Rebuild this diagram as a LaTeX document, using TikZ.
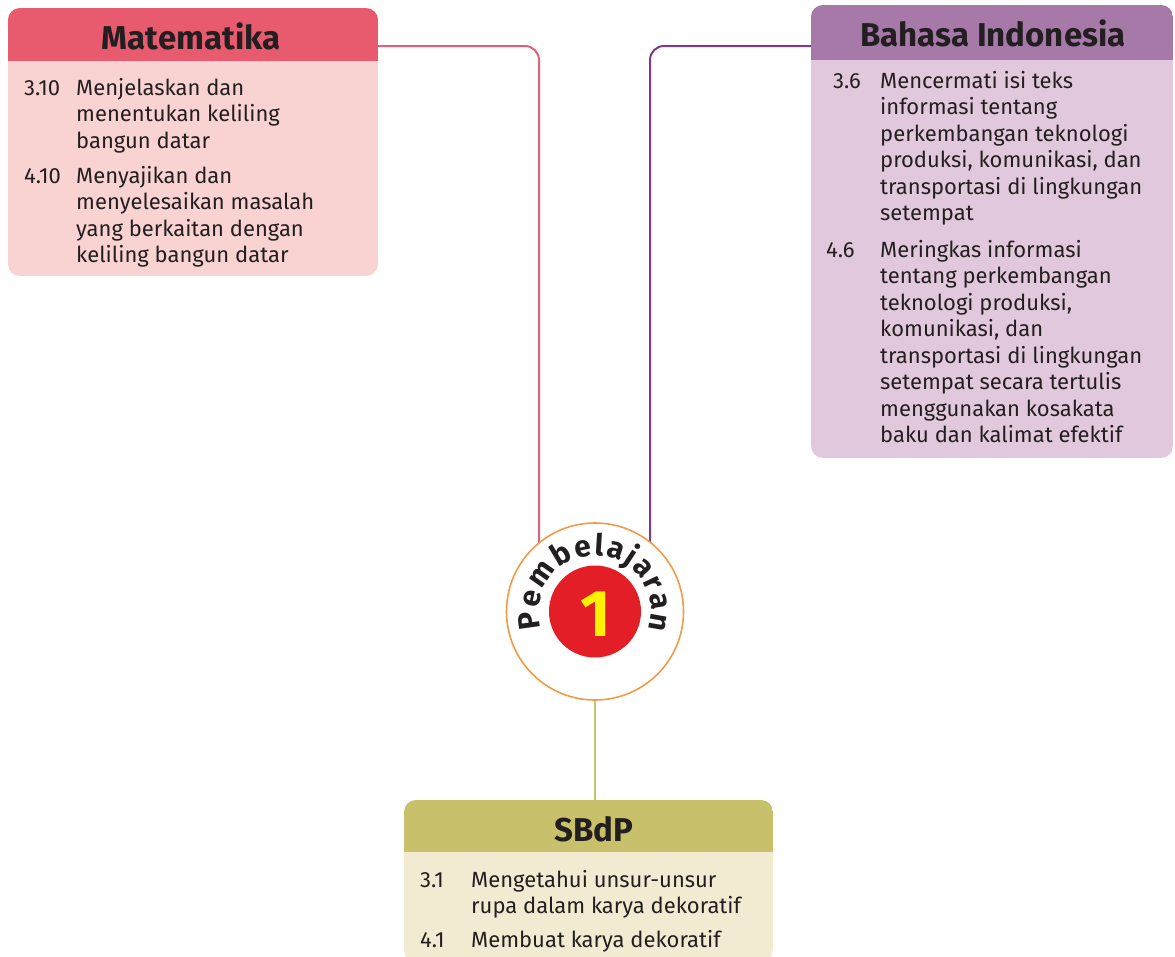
\documentclass[tikz,border=0pt]{standalone}
\usepackage{fontspec}
\setmainfont{Fira Sans}
\usetikzlibrary{decorations.text,calc}
\definecolor{mathead}{HTML}{E85A6E}
\definecolor{matbody}{HTML}{F9D2D2}
\definecolor{matline}{HTML}{E0627A}
\definecolor{bihead}{HTML}{A679A8}
\definecolor{bibody}{HTML}{E2C8DC}
\definecolor{biline}{HTML}{7D3A8C}
\definecolor{sbhead}{HTML}{C8C06A}
\definecolor{sbbody}{HTML}{F1EBD2}
\definecolor{sbline}{HTML}{C9C46E}
\definecolor{ringcol}{HTML}{F29A45}
\definecolor{redcol}{HTML}{E41E26}
\definecolor{yelcol}{HTML}{FFF200}
\definecolor{txt}{HTML}{231F20}
\tikzset{
  itemtext/.style={font=\fontsize{22}{26.5}\selectfont, text=txt, anchor=base west, align=left, inner sep=0pt},
  headtext/.style={font=\bfseries\fontsize{33}{34}\selectfont, text=txt, inner sep=0pt},
  conn/.style={line width=2pt, rounded corners=14pt},
}
\begin{document}
\begin{tikzpicture}[x=1pt,y=-1pt]
\useasboundingbox (0,0) rectangle (1175,956);
\clip (0,0) rectangle (1175,956);
% connectors
\node[circle, minimum size=177pt, inner sep=0pt] (circ) at (595,611.5) {};
\coordinate (m1) at (378,46);
\coordinate (b1) at (811,46);
\draw[conn, matline] (m1) -| ([xshift=-56pt]circ.center);
\draw[conn, biline] (b1) -| ([xshift=55pt]circ.center);
\draw[line width=2pt, sbline] (circ.center) -- (595,800) coordinate (s1);
% Matematika box
\begin{scope}
\clip[rounded corners=12pt] (8,8) rectangle (378,276);
\fill[matbody] (8,8) rectangle (378,276);
\fill[mathead] (8,8) rectangle (378,61);
\end{scope}
\node[headtext] (mathd) at (191,36) {Matematika};
\node[itemtext] (m31n) at (24,95) {3.10};
\node[itemtext] (m31t) at (76,148) {Menjelaskan dan\\menentukan keliling\\bangun datar};
\node[itemtext] (m41n) at (24,183) {4.10};
\node[itemtext] (m41t) at (76,262.5) {Menyajikan dan\\menyelesaikan masalah\\yang berkaitan dengan\\keliling bangun datar};
% Bahasa Indonesia box
\begin{scope}
\clip[rounded corners=12pt] (811,5) rectangle (1173,458);
\fill[bibody] (811,5) rectangle (1173,458);
\fill[bihead] (811,5) rectangle (1173,60);
\end{scope}
\node[headtext] (bihd) at (993,33) {Bahasa Indonesia};
\node[itemtext] (b36n) at (833,88) {3.6};
\node[itemtext] (b36t) at (880,220.5) {Mencermati isi teks\\informasi tentang\\perkembangan teknologi\\produksi, komunikasi, dan\\transportasi di lingkungan\\setempat};
\node[itemtext] (b46n) at (826,257) {4.6};
\node[itemtext] (b46t) at (880,442.5) {Meringkas informasi\\tentang perkembangan\\teknologi produksi,\\komunikasi, dan\\transportasi di lingkungan\\setempat secara tertulis\\menggunakan kosakata\\baku dan kalimat efektif};
% SBdP box
\begin{scope}
\clip[rounded corners=12pt] (404,800) rectangle (773,962);
\fill[sbbody] (404,800) rectangle (773,962);
\fill[sbhead] (404,800) rectangle (773,852);
\end{scope}
\node[headtext] (sbhd) at (594,829) {SBdP};
\node[itemtext] (s31n) at (420,887) {3.1};
\node[itemtext] (s31t) at (471,913.5) {Mengetahui unsur-unsur\\rupa dalam karya dekoratif};
\node[itemtext] (s41n) at (420,947) {4.1};
\node[itemtext] (s41t) at (471,947) {Membuat karya dekoratif};
% centre badge
\node[circle, draw=ringcol, fill=white, line width=1.6pt, minimum size=177pt, inner sep=0pt] (ring) at (circ.center) {};
\node[circle, fill=redcol, minimum size=92pt, inner sep=0pt] (red) at (circ.center) {};
\node[font=\bfseries\fontsize{66}{66}\selectfont, text=yelcol, inner sep=0pt] (one) at (596,614) {1};
\path[decorate, decoration={text along path, text={|\bfseries\fontsize{30}{30}\selectfont\color{txt}|Pembelajaran}, text align={fit to path}}]
  (circ.center) ++(-197:56) arc[start angle=-197, end angle=19, radius=56];
\end{tikzpicture}
\end{document}
